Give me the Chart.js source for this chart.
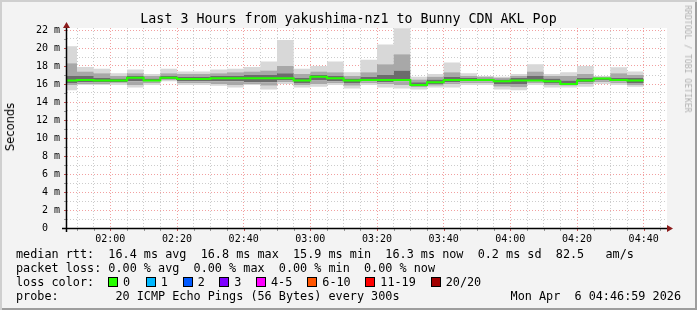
<!DOCTYPE html>
<html>
<head>
<meta charset="utf-8">
<script src="https://cdn.jsdelivr.net/npm/chart.js@4/dist/chart.umd.min.js"></script>
<style>
  body { margin: 0; background: #f3f3f3; }
  #frame {
    position: relative; width: 697px; height: 310px; background: #f3f3f3; overflow: hidden;
    box-shadow: inset 2px 2px 0 #cfcfcf, inset -2px -2px 0 #9d9d9d;
  }
  #frame canvas { position: absolute; left: 0; top: 0; }
  .txt { position: absolute; font-family: "DejaVu Sans Mono", monospace; color: #000; white-space: pre; }
  #title { left: 0; width: 697px; top: 11px; text-align: center; font-size: 13.3px; line-height: 16px; }
  #ylabel { left: 10px; top: 127px; transform: translate(-50%, -50%) rotate(-90deg); font-family: "DejaVu Sans", sans-serif; font-size: 11.5px; }
  #mark { left: 688px; top: 59px; transform: translate(-50%, -50%) rotate(90deg); font-size: 8.1px; color: #b0b0b0; }
  .leg { left: 16px; font-size: 11.8px; line-height: 14px; }
  .box { position: absolute; width: 8px; height: 8px; border: 1px solid #000; top: 277px; }
  .lab { position: absolute; top: 275px; font-size: 11.8px; line-height: 14px; }
</style>
</head>
<body>
<div id="frame">
  <canvas id="smoke" width="697" height="310"></canvas>
  <div class="txt" id="title">Last 3 Hours from yakushima-nz1 to Bunny CDN AKL Pop</div>
  <div class="txt" id="ylabel">Seconds</div>
  <div class="txt" id="mark">RRDTOOL / TOBI OETIKER</div>
  <div class="txt leg" style="top:247px">median rtt:  16.4 ms avg  16.8 ms max  15.9 ms min  16.3 ms now  0.2 ms sd  82.5   am/s</div>
  <div class="txt leg" style="top:261px">packet loss: 0.00 % avg  0.00 % max  0.00 % min  0.00 % now</div>
  <div class="txt leg" style="top:275px">loss color:</div>
  <div id="losses"></div>
  <div class="txt leg" style="top:289px">probe:        20 ICMP Echo Pings (56 Bytes) every 300s</div>
  <div class="txt leg" style="top:289px; left:auto; right:16px">Mon Apr  6 04:46:59 2026</div>
</div>
<script>
// 5 minute slots (start time of each slot), values in ms
const slotTimes = ['01:45', '01:50', '01:55', '02:00', '02:05', '02:10', '02:15', '02:20', '02:25', '02:30',
  '02:35', '02:40', '02:45', '02:50', '02:55', '03:00', '03:05', '03:10', '03:15', '03:20',
  '03:25', '03:30', '03:35', '03:40', '03:45', '03:50', '03:55', '04:00', '04:05', '04:10',
  '04:15', '04:20', '04:25', '04:30', '04:35'];
const slotEnd = '04:40';

const rttMin = [15.3, 15.9, 15.9, 15.9, 15.6, 15.9, 16.3, 15.9, 15.9, 15.8, 15.6, 15.9, 15.4, 16.0, 15.6, 15.7, 15.9, 15.5,
  15.9, 15.6, 15.5, 15.4, 15.6, 15.6, 15.9, 15.9, 15.4, 15.3, 15.9, 15.6, 15.6, 15.7, 16.0, 15.9, 15.7];
const rttLow = [15.9, 16.0, 16.0, 16.1, 15.9, 16.1, 16.4, 16.1, 16.1, 16.0, 15.9, 16.0, 15.8, 16.2, 15.9, 16.0, 16.1, 15.8,
  16.1, 16.0, 15.9, 15.6, 15.8, 16.0, 16.1, 16.1, 15.7, 15.6, 16.1, 15.9, 15.8, 16.0, 16.2, 16.1, 15.9];
const rttInnerLow = [16.1, 16.2, 16.2, 16.2, 16.3, 16.3, 16.5, 16.3, 16.3, 16.3, 16.3, 16.2, 16.2, 16.4, 16.1, 16.4, 16.3, 16.1,
  16.3, 16.2, 16.3, 15.8, 16.0, 16.2, 16.3, 16.3, 16.0, 16.0, 16.3, 16.1, 15.9, 16.2, 16.4, 16.3, 16.1];
const rttMedian = [16.4, 16.45, 16.4, 16.4, 16.7, 16.4, 16.7, 16.55, 16.55, 16.65, 16.65, 16.65, 16.65, 16.65, 16.4, 16.8, 16.65, 16.4,
  16.45, 16.45, 16.45, 15.9, 16.2, 16.45, 16.45, 16.45, 16.3, 16.4, 16.4, 16.3, 16.0, 16.4, 16.6, 16.45, 16.4];
const rttInnerHigh = [16.9, 16.9, 16.7, 16.6, 16.9, 16.6, 16.9, 16.8, 16.8, 16.9, 16.9, 17.0, 17.0, 17.2, 16.7, 17.0, 16.9, 16.6,
  16.8, 17.0, 17.5, 16.2, 16.5, 16.8, 16.7, 16.6, 16.5, 16.7, 16.9, 16.6, 16.4, 16.7, 16.7, 16.7, 16.7];
const rttHigh = [18.3, 17.4, 17.2, 16.9, 17.2, 16.9, 17.2, 17.1, 17.1, 17.2, 17.3, 17.4, 17.5, 18.0, 17.1, 17.4, 17.3, 16.9,
  17.3, 18.2, 19.3, 16.5, 16.8, 17.3, 16.9, 16.8, 16.7, 16.9, 17.4, 16.9, 16.9, 17.1, 16.8, 17.2, 17.0];
const rttMax = [20.2, 17.9, 17.7, 17.2, 17.6, 17.1, 17.7, 17.4, 17.4, 17.6, 17.7, 17.9, 18.5, 20.9, 17.7, 18.0, 18.5, 17.3,
  18.7, 20.4, 22.2, 16.8, 17.1, 18.4, 17.2, 16.9, 16.8, 17.1, 18.2, 17.1, 17.3, 18.0, 16.9, 17.85, 17.4];

const yTicks = [0, 1, 2, 3, 4, 5, 6, 7, 8, 9, 10, 11, 12, 13, 14, 15, 16, 17, 18, 19, 20, 21, 22];
const lossLabels = ['0', '1', '2', '3', '4-5', '6-10', '11-19', '20/20'];
const lossColors = ['#26ff00', '#00b8ff', '#0059ff', '#7e00ff', '#ff00ff', '#ff5500', '#ff0000', '#a10000'];

const toMin = s => { const p = s.split(':'); return +p[0] * 60 + +p[1]; };
const fmt = v => String(Math.floor(v / 60)).padStart(2, '0') + ':' + String(v % 60).padStart(2, '0');
const xs = slotTimes.map(toMin).concat([toMin(slotEnd)]);
const pts = arr => xs.map((x, i) => ({ x: x, y: arr[Math.min(i, arr.length - 1)] }));

let gridTimes = [];
for (let t = 110; t <= 285; t += 5) gridTimes.push(t);

// loss color legend
const lossX = [108, 145.7, 182.7, 219.3, 256, 307.3, 365.3, 430.7];
let html = '';
lossLabels.forEach((l, i) => {
  html += `<div class="box" style="left:${lossX[i]}px;background:${lossColors[i]}"></div>`;
  html += `<div class="txt lab" style="left:${lossX[i] + 15}px">${l}</div>`;
});
document.getElementById('losses').innerHTML = html;

// each value holds from its slot start to the next slot start
const band = (data, fill, color) => ({
  data: pts(data), stepped: 'before', pointRadius: 0, borderWidth: 0, borderColor: 'transparent',
  backgroundColor: color, fill: fill, clip: 0, order: 1
});

const plotBg = {
  id: 'plotBg',
  beforeDraw(chart) {
    const a = chart.chartArea, c = chart.ctx;
    c.save(); c.fillStyle = '#fff'; c.fillRect(a.left, a.top, a.right - a.left, a.bottom - a.top); c.restore();
  }
};

const axes = {
  id: 'axes',
  afterDraw(chart) {
    const a = chart.chartArea, c = chart.ctx, x = chart.scales.x, y = chart.scales.y;
    c.save();
    // small ticks
    c.lineWidth = 1;
    gridTimes.forEach(t => {
      const px = Math.round(x.getPixelForValue(t)) + 0.5;
      c.strokeStyle = t % 20 === 0 ? '#c05050' : '#999';
      c.beginPath(); c.moveTo(px, a.bottom); c.lineTo(px, a.bottom + 3); c.stroke();
    });
    yTicks.forEach(v => {
      const py = Math.round(y.getPixelForValue(v)) + 0.5;
      c.strokeStyle = v % 2 === 0 ? '#c05050' : '#999';
      c.beginPath(); c.moveTo(a.left - 3, py); c.lineTo(a.left, py); c.stroke();
    });
    c.strokeStyle = '#000';
    c.lineWidth = 1.5;
    c.beginPath();
    c.moveTo(a.left - 0.5, a.bottom + 4); c.lineTo(a.left - 0.5, a.top - 2);
    c.moveTo(a.left - 5, a.bottom + 0.5); c.lineTo(a.right + 2, a.bottom + 0.5);
    c.stroke();
    c.fillStyle = '#8c1c1c';
    c.beginPath();
    c.moveTo(a.left - 0.5, a.top - 6); c.lineTo(a.left - 4, a.top); c.lineTo(a.left + 3, a.top); c.closePath();
    c.moveTo(a.right + 6, a.bottom + 0.5); c.lineTo(a.right, a.bottom - 3); c.lineTo(a.right, a.bottom + 4); c.closePath();
    c.fill();
    c.restore();
  }
};

new Chart(document.getElementById('smoke'), {
  type: 'line',
  data: {
    datasets: [
      band(rttMin, false, 'transparent'),
      band(rttLow, '-1', '#d8d8d8'),
      band(rttInnerLow, '-1', '#a8a8a8'),
      band(rttInnerHigh, '-1', '#6c6c6c'),
      band(rttHigh, '-1', '#a8a8a8'),
      band(rttMax, '-1', '#d8d8d8'),
      {
        data: pts(rttMedian), stepped: 'before', pointRadius: 0, borderWidth: 2,
        borderColor: lossColors[0], fill: false, clip: 0, order: 0
      }
    ]
  },
  options: {
    responsive: false,
    animation: false,
    layout: { padding: { top: 28, right: 30, left: 0, bottom: 0 } },
    plugins: { legend: { display: false }, title: { display: false }, tooltip: { enabled: false } },
    scales: {
      x: {
        type: 'linear', min: 107, max: 287,
        afterBuildTicks: s => { s.ticks = gridTimes.map(v => ({ value: v })); },
        afterFit: s => { s.height = 82; },
        ticks: {
          autoSkip: false, maxRotation: 0, padding: 5, color: '#000',
          font: { family: 'DejaVu Sans Mono', size: 10 },
          callback: v => v % 20 === 0 ? fmt(v) : ''
        },
        grid: {
          drawTicks: false,
          color: c => c.tick && c.tick.value % 20 === 0 ? '#f2a0a0' : '#cccccc'
        },
        border: { display: false, dash: [1, 2] }
      },
      y: {
        min: 0, max: 200 / 9,
        afterBuildTicks: s => { s.ticks = yTicks.map(v => ({ value: v })); },
        afterFit: s => { s.width = 67; },
        ticks: {
          autoSkip: false, padding: 7, color: '#000',
          font: { family: 'DejaVu Sans Mono', size: 10 },
          callback: v => v % 2 !== 0 ? '' : (v === 0 ? '0  ' : v + ' m')
        },
        grid: {
          drawTicks: false,
          color: c => c.tick && c.tick.value % 2 === 0 ? '#f2a0a0' : '#cccccc'
        },
        border: { display: false, dash: [1, 2] }
      }
    }
  },
  plugins: [plotBg, axes]
});
</script>
</body>
</html>
